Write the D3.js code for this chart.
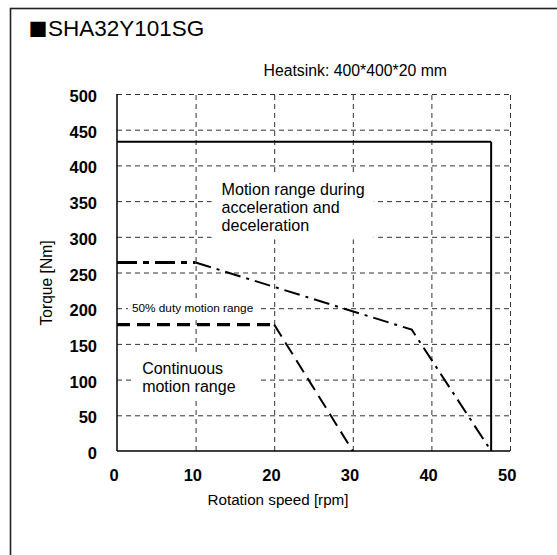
<!DOCTYPE html>
<html>
<head>
<meta charset="utf-8">
<script src="https://cdn.jsdelivr.net/npm/d3@7"></script>
<style>
  body { margin: 0; background: #fff; }
  svg { display: block; font-family: "Liberation Sans", Arial, sans-serif; }
</style>
</head>
<body>
<svg width="557" height="555"></svg>
<script>
// Data
let speedTicks = [0, 10, 20, 30, 40, 50];
let torqueTicks = [0, 50, 100, 150, 200, 250, 300, 350, 400, 450, 500];

// Motion range during acceleration and deceleration (solid)
let accelSpeed = [0, 47.6, 47.6];
let accelTorque = [433, 433, 0];

// 50% duty motion range (dash-dot)
let dutySpeed = [0, 10, 37.5, 47.6];
let dutyTorque = [264, 264, 170, 0];

// Continuous motion range (dashed)
let contSpeed = [0, 20, 30];
let contTorque = [177, 177, 0];

let svg = d3.select('svg');
let margin = {top: 94, right: 47, bottom: 104, left: 117};
let width = +svg.attr('width');
let height = +svg.attr('height');

let x = d3.scaleLinear().domain([0, 50]).range([margin.left, width - margin.right]);
let y = d3.scaleLinear().domain([0, 500]).range([height - margin.bottom, margin.top]);

// Outer frame (runs off the right and bottom edge)
svg.append('rect')
    .attr('x', 10.5).attr('y', 8.5)
    .attr('width', 700).attr('height', 700)
    .attr('fill', 'none')
    .attr('stroke', '#222')
    .attr('stroke-width', 1.6);

// Title
svg.append('text')
    .attr('x', 28.5).attr('y', 37)
    .attr('font-size', '19px')
    .attr('font-family', '"Noto Sans CJK JP", sans-serif')
    .text('■');
svg.append('text')
    .attr('x', 48).attr('y', 36)
    .attr('font-size', '22.5px')
    .text('SHA32Y101SG');

svg.append('text')
    .attr('x', 447).attr('y', 76)
    .attr('text-anchor', 'end')
    .attr('font-size', '15.8px')
    .text('Heatsink: 400*400*20 mm');

// Grid lines
svg.append('g')
    .attr('transform', 'translate(' + margin.left + ',0)')
    .call(d3.axisLeft(y).tickValues(torqueTicks.slice(1)).tickSize(-(x(50) - x(0))).tickFormat(''))
    .call(g => g.select('.domain').remove())
    .selectAll('line')
    .attr('stroke', '#333')
    .attr('stroke-dasharray', '5,4');

svg.append('g')
    .attr('transform', 'translate(0,' + y(0) + ')')
    .call(d3.axisBottom(x).tickValues(speedTicks.slice(1)).tickSize(-(y(0) - y(500))).tickFormat(''))
    .call(g => g.select('.domain').remove())
    .selectAll('line')
    .attr('stroke', '#333')
    .attr('stroke-dasharray', '5,4');

// Axis lines
svg.append('line')
    .attr('x1', x(0)).attr('x2', x(0))
    .attr('y1', y(500)).attr('y2', y(0))
    .attr('stroke', '#000').attr('stroke-width', 1.5);
svg.append('line')
    .attr('x1', x(0)).attr('x2', x(50))
    .attr('y1', y(0)).attr('y2', y(0))
    .attr('stroke', '#000').attr('stroke-width', 1.5);

// Tick labels
svg.append('g')
    .attr('transform', 'translate(' + margin.left + ',0)')
    .call(d3.axisLeft(y).tickValues(torqueTicks).tickSize(0).tickPadding(20))
    .call(g => g.select('.domain').remove())
    .selectAll('text')
    .attr('dy', '0.46em')
    .attr('fill', '#000')
    .attr('font-size', '16.5px')
    .attr('font-weight', 'bold')
    .attr('font-family', '"Liberation Sans", Arial, sans-serif');

svg.append('g')
    .attr('transform', 'translate(0,' + y(0) + ')')
    .call(d3.axisBottom(x).tickValues(speedTicks).tickSize(0).tickPadding(18))
    .call(g => g.select('.domain').remove())
    .selectAll('text')
    .attr('dx', '-0.2em')
    .attr('fill', '#000')
    .attr('font-size', '16.5px')
    .attr('font-weight', 'bold')
    .attr('font-family', '"Liberation Sans", Arial, sans-serif');

// Axis titles
svg.append('text')
    .attr('transform', 'translate(52,283) rotate(-90)')
    .attr('text-anchor', 'middle')
    .attr('font-size', '15.6px')
    .text('Torque [Nm]');

svg.append('text')
    .attr('x', 278).attr('y', 505)
    .attr('text-anchor', 'middle')
    .attr('font-size', '15.2px')
    .text('Rotation speed [rpm]');

// Region labels on white boxes that hide the grid
function label(lines, sx, st, size, lineHeight, pad) {
    let g = svg.append('g');
    let bg = g.append('rect').attr('fill', '#fff');
    let t = g.append('text')
        .attr('x', x(sx)).attr('y', y(st))
        .attr('font-size', size + 'px');
    t.selectAll('tspan')
        .data(lines)
        .enter().append('tspan')
        .attr('x', x(sx))
        .attr('dy', (d, i) => i === 0 ? 0 : lineHeight)
        .text(d => d);
    let b = t.node().getBBox();
    bg.attr('x', b.x - pad[3]).attr('y', b.y - pad[0])
      .attr('width', b.width + pad[1] + pad[3])
      .attr('height', b.height + pad[0] + pad[2]);
}

label(['Motion range during', 'acceleration and', 'deceleration'], 13.3, 358, 16.1, 18, [5, 9, 5, 10]);
label(['50% duty motion range'], 1.9, 195, 11.8, 0, [2, 4, 3, 4]);
label(['Continuous', 'motion range'], 3.2, 108, 16, 18.5, [6, 22, 2, 7]);

// Curves
let line = d3.line().x(d => x(d[0])).y(d => y(d[1]));

function curve(speed, torque, dashH, dashS, widthH, widthS) {
    let pts = d3.zip(speed, torque);
    svg.append('path')
        .attr('d', line(pts.slice(0, 2)))
        .attr('fill', 'none')
        .attr('stroke', '#000')
        .attr('stroke-width', widthH)
        .attr('stroke-dasharray', dashH);
    svg.append('path')
        .attr('d', line(pts.slice(1)))
        .attr('fill', 'none')
        .attr('stroke', '#000')
        .attr('stroke-width', widthS)
        .attr('stroke-dasharray', dashS);
}

curve(accelSpeed, accelTorque, null, null, 2, 2);
curve(dutySpeed, dutyTorque, '20,6,6,6', '16,6,3,6', 3.2, 2);
curve(contSpeed, contTorque, '13,7', '14,7', 3.2, 2);
</script>
</body>
</html>
